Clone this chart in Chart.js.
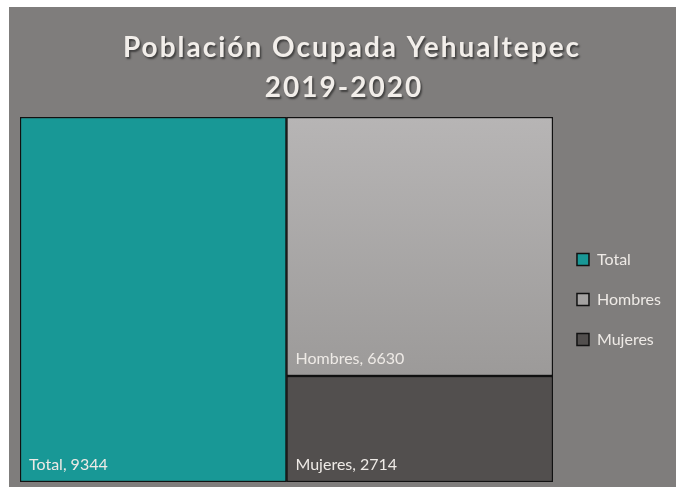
<!DOCTYPE html>
<html lang="es">
<head>
<meta charset="UTF-8" />
<title>Población Ocupada Yehualtepec</title>
<script src="https://cdn.jsdelivr.net/npm/chart.js"></script>
<style>
    html, body { margin: 0; padding: 0; background: #fff; }
    #wrap { width: 676px; height: 489px; position: relative; }
</style>
</head>
<body>
<div id="wrap"><canvas id="chart"></canvas></div>
<script>
    // datos del treemap
    const categories = ['Total', 'Hombres', 'Mujeres'];
    const values = [9344, 6630, 2714];
    const titleLines = ['Población Ocupada Yehualtepec', '2019-2020'];

    const panelBg = '#7f7d7c';
    const textColor = '#eeeae6';

    // fondo gris y título
    const panelPlugin = {
        id: 'panel',
        beforeDraw(chart) {
            const ctx = chart.ctx;
            ctx.save();
            ctx.fillStyle = panelBg;
            ctx.fillRect(9, 7, chart.width - 9, chart.height - 9);
            ctx.restore();
        },
        afterDraw(chart) {
            const ctx = chart.ctx;
            ctx.save();
            ctx.font = 'bold 28px Lato';
            ctx.letterSpacing = '2px';
            ctx.textAlign = 'center';
            ctx.textBaseline = 'alphabetic';
            ctx.shadowColor = 'rgba(0,0,0,0.5)';
            ctx.shadowOffsetX = 1.5;
            ctx.shadowOffsetY = 1.5;
            ctx.shadowBlur = 2;
            ctx.fillStyle = '#f2eeea';
            ctx.fillText(titleLines[0], 352, 57);
            ctx.fillText(titleLines[1], 344, 97);
            ctx.restore();
        }
    };

    // etiquetas dentro de cada rectángulo
    const cellLabels = {
        id: 'cellLabels',
        afterDatasetsDraw(chart) {
            const ctx = chart.ctx;
            ctx.save();
            ctx.font = '16px Lato';
            ctx.fillStyle = textColor;
            ctx.textBaseline = 'alphabetic';
            chart.data.datasets.forEach((ds, i) => {
                chart.getDatasetMeta(i).data.forEach((bar, j) => {
                    if (ds.data[j] == null) return;
                    const left = bar.x - bar.width / 2;
                    ctx.fillText(ds.label + ', ' + ds.data[j], left + 9, bar.base - 12);
                });
            });
            ctx.restore();
        }
    };

    function hombresFill(context) {
        const ca = context.chart.chartArea;
        if (!ca) return '#aaa8a7';
        const g = context.chart.ctx.createLinearGradient(0, ca.top, 0, ca.bottom);
        g.addColorStop(0, '#b7b5b5');
        g.addColorStop(0.71, '#9c9a99');
        g.addColorStop(1, '#8e8c8b');
        return g;
    }

    const fills = { Total: '#189896', Hombres: hombresFill, Mujeres: '#524f4e' };

    // columna 1: Total; columna 2: Mujeres abajo, Hombres arriba
    const datasets = [
        { label: categories[0], data: [values[0], null] },
        { label: categories[2], data: [null, values[2]] },
        { label: categories[1], data: [null, values[1]] }
    ].map(d => Object.assign(d, {
        backgroundColor: fills[d.label],
        borderColor: '#111',
        borderWidth: 1.5,
        borderSkipped: false,
        barPercentage: 1,
        categoryPercentage: 1
    }));

    new Chart(document.getElementById('chart'), {
        type: 'bar',
        data: { labels: ['a', 'b'], datasets: datasets },
        options: {
            responsive: true,
            maintainAspectRatio: false,
            animation: false,
            layout: { padding: { left: 20, top: 117, bottom: 7, right: 5 } },
            scales: {
                x: { stacked: true, display: false, grid: { display: false } },
                y: { stacked: true, display: false, min: 0, max: values[0], grid: { display: false } }
            },
            plugins: {
                title: { display: false },
                tooltip: { enabled: false },
                legend: {
                    position: 'right',
                    labels: {
                        font: { family: 'Lato', size: 16 },
                        color: textColor,
                        boxWidth: 12,
                        boxHeight: 12,
                        padding: 24,
                        sort: (a, b) => categories.indexOf(a.text) - categories.indexOf(b.text)
                    }
                }
            }
        },
        plugins: [panelPlugin, cellLabels]
    });
</script>
</body>
</html>
